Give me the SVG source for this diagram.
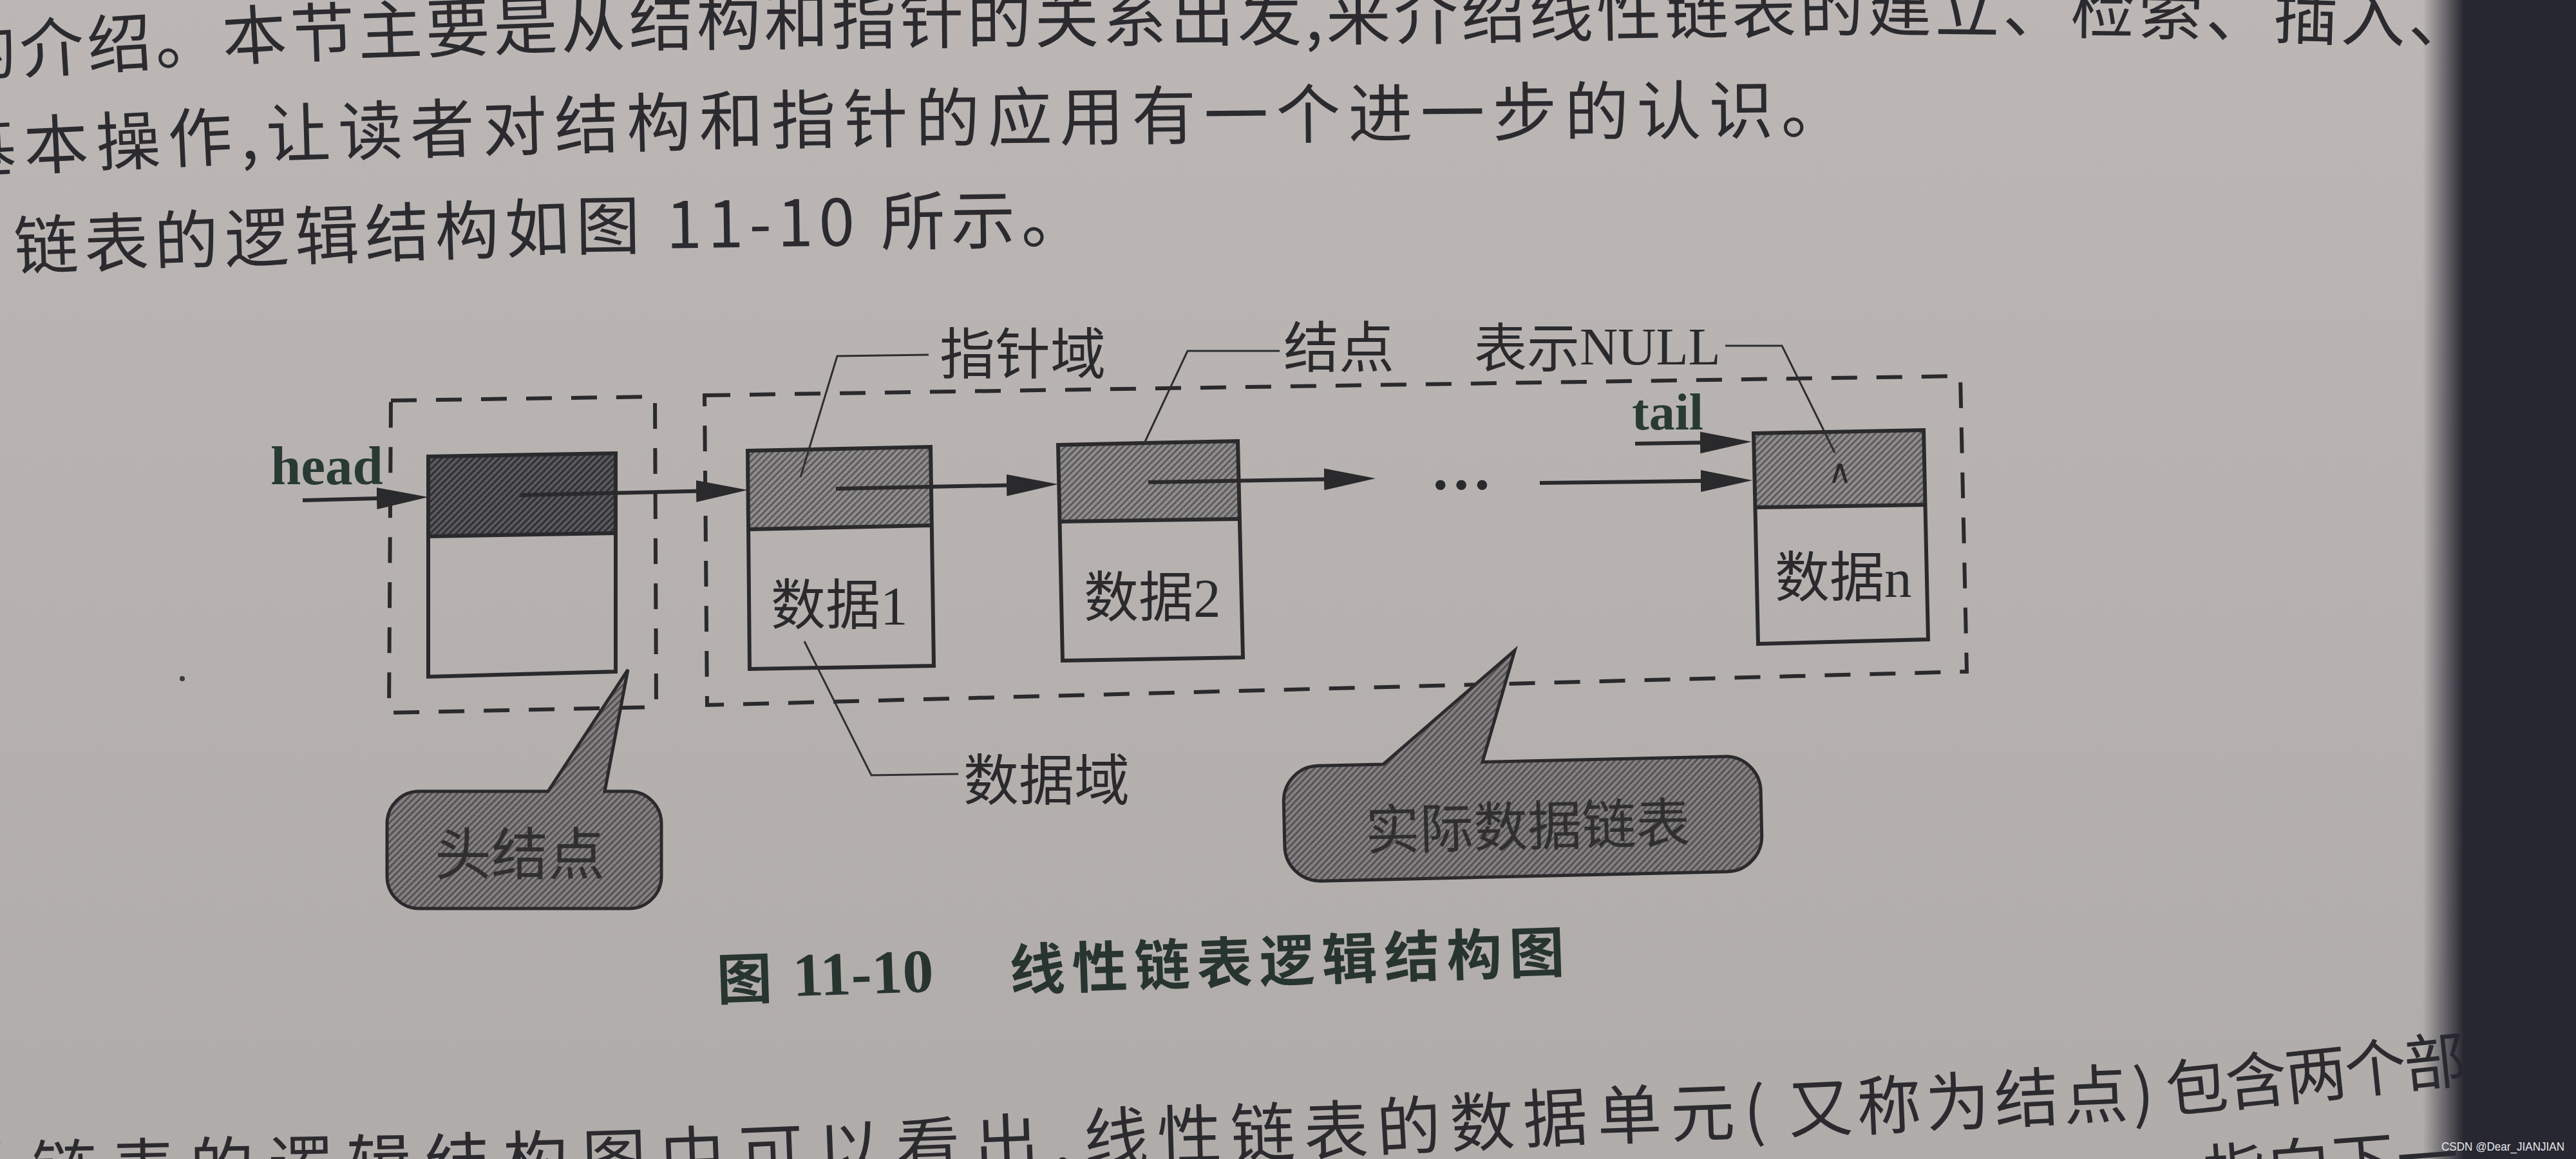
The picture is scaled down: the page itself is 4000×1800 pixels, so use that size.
<svg xmlns="http://www.w3.org/2000/svg" width="4000" height="1800" viewBox="0 0 4000 1800">
<defs>
<style>
.body{font-family:"Noto Sans CJK SC","Noto Sans",sans-serif;font-size:100px;fill:#2b2b2f;}
.lbl{font-family:"Noto Sans CJK SC","Noto Sans",sans-serif;font-size:86px;fill:#2a2a2d;}
.ser{font-family:"Liberation Serif","Noto Sans CJK SC",serif;}
.box{fill:none;stroke:#2a2a2c;stroke-width:6;}
.dash{fill:none;stroke:#2a2a2c;stroke-width:6;stroke-dasharray:40 30;}
.arrow{fill:none;stroke:#2a2a2c;stroke-width:6;marker-end:url(#ah);}
.lead{fill:none;stroke:#2e2e30;stroke-width:3;}
.call{stroke:#2a2a2c;stroke-width:5;}
.cap{font-family:"Noto Sans CJK SC",sans-serif;font-weight:700;font-size:86px;fill:#28342f;}
.grn{font-family:"Liberation Serif",serif;font-weight:700;fill:#293a34;}
</style>
<pattern id="hNode" width="7" height="7" patternUnits="userSpaceOnUse" patternTransform="rotate(45)"><rect width="7" height="7" fill="#8e8b8b"/><rect width="2.5" height="7" fill="#555354"/></pattern>
<pattern id="hHead" width="7" height="7" patternUnits="userSpaceOnUse" patternTransform="rotate(45)"><rect width="7" height="7" fill="#5a595d"/><rect width="3" height="7" fill="#302f34"/></pattern>
<pattern id="hCall" width="7" height="7" patternUnits="userSpaceOnUse" patternTransform="rotate(45)"><rect width="7" height="7" fill="#837f80"/><rect width="2.5" height="7" fill="#4d4b4c"/></pattern>
<linearGradient id="paper" x1="0" y1="0" x2="0" y2="1800" gradientUnits="userSpaceOnUse"><stop offset="0" stop-color="#bcb7b5"/><stop offset="1" stop-color="#b0acaa"/></linearGradient>
<linearGradient id="band" x1="3762" y1="0" x2="3826" y2="0" gradientUnits="userSpaceOnUse"><stop offset="0" stop-color="#272731" stop-opacity="0"/><stop offset="1" stop-color="#272731"/></linearGradient>
<marker id="ah" markerUnits="userSpaceOnUse" markerWidth="90" markerHeight="40" refX="10" refY="17" orient="auto"><path d="M0,0 L80,17 L0,34 Z" fill="#2a2a2c"/></marker>
<path id="p1" d="M -72,120 L 400,91 L 970,71 L 1600,66 L 2250,60 L 2900,48 L 3300,52 L 3700,64 L 3980,68"/>
<path id="p2" d="M -73,269 L 440,244 L 1125,224 L 2000,214 L 3000,205"/>
<path id="p3" d="M 23,419 L 945,387 L 1950,372"/>
<path id="p4a" d="M -71,1856 L 720,1842 L 1078,1832 L 1750,1806"/>
<path id="p4b" d="M 1684,1804 L 2083,1792 L 2427,1772 L 2800,1759"/>
<path id="p4c" d="M 2778,1760 L 3000,1750 L 3250,1737 L 3420,1730"/>
<path id="p4d" d="M 3367,1728 L 3500,1714 L 3690,1694 L 3900,1672"/>
<path id="p5" d="M 3425,1858 L 3950,1818"/>
</defs>

<g id="page">
<rect x="0" y="0" width="4000" height="1800" fill="url(#paper)"/>
<circle cx="283" cy="1054" r="4" fill="#3a3a3c"/>
</g>

<g id="body-text" class="body">
<text style="letter-spacing:5px"><textPath href="#p1">的介绍。本节主要是从结构和指针的关系出发,来介绍线性链表的建立、检索、插入、</textPath></text>
<text style="letter-spacing:12px"><textPath href="#p2">基本操作,让读者对结构和指针的应用有一个进一步的认识。</textPath></text>
<text style="letter-spacing:9px"><textPath href="#p3">链表的逻辑结构如图 11-10 所示。</textPath></text>
<text style="letter-spacing:22px"><textPath href="#p4a">从链表的逻辑结构图中可以看出,</textPath></text>
<text style="letter-spacing:14px"><textPath href="#p4b">线性链表的数据单元(</textPath></text>
<text style="letter-spacing:7px"><textPath href="#p4c">又称为结点)</textPath></text>
<text style="letter-spacing:-3px;font-size:96px"><textPath href="#p4d">包含两个部</textPath></text>
<text style="letter-spacing:4px;font-size:96px"><textPath href="#p5">指向下一</textPath></text>
</g>

<g id="head-frame"><path class="dash" d="M607,622 L1017,616 L1019,1098 L604,1107 Z"/></g>
<g id="list-frame"><path class="dash" d="M1094,614 L3044,584 L3054,1043 L1098,1095 Z"/></g>

<g id="head-node">
<path d="M665,709 L956,704 L956,828 L665,833 Z" fill="url(#hHead)"/>
<path class="box" d="M665,709 L956,704 L956,1043 L665,1051 Z"/>
<path class="box" d="M665,833 L956,828"/>
</g>

<g id="node1">
<path d="M1161,700 L1445,694 L1445,816 L1164,822 Z" fill="url(#hNode)"/>
<path class="box" d="M1161,700 L1445,694 L1450,1034 L1164,1039 Z"/>
<path class="box" d="M1164,822 L1445,816"/>
<text class="lbl" x="1197" y="970" style="font-size:85px">数据<tspan class="ser">1</tspan></text>
</g>

<g id="node2">
<path d="M1643,691 L1922,685 L1924,806 L1646,810 Z" fill="url(#hNode)"/>
<path class="box" d="M1643,691 L1922,685 L1930,1021 L1650,1026 Z"/>
<path class="box" d="M1646,810 L1924,806"/>
<text class="lbl" x="1683" y="958" style="font-size:85px">数据<tspan class="ser">2</tspan></text>
</g>

<g id="node-n">
<path d="M2723,673 L2987,668 L2990,784 L2726,788 Z" fill="url(#hNode)"/>
<path class="box" d="M2723,673 L2987,668 L2994,993 L2730,1000 Z"/>
<path class="box" d="M2726,788 L2990,784"/>
<text x="2857" y="750" text-anchor="middle" style="font-family:'DejaVu Sans',sans-serif;font-size:52px;fill:#2a2a2d">∧</text>
<text class="lbl" x="2756" y="927" style="font-size:85px">数据<tspan class="ser">n</tspan></text>
</g>

<g id="pointers">
<text class="grn" x="420" y="752" style="font-size:85px">head</text>
<text class="grn" x="2534" y="667" style="font-size:80px">tail</text>
<text class="ser" x="2221" y="760" style="font-size:96px;font-weight:700;fill:#2a2a2c">…</text>
</g>

<g id="connectors">
<path class="arrow" d="M470,777 L595,773.8"/>
<path class="arrow" d="M807,769 L1091,762.6"/>
<path class="arrow" d="M1298,759 L1573,753.4"/>
<path class="arrow" d="M1783,749 L2066,744.2"/>
<path class="arrow" d="M2391,750 L2651,746.8"/>
<path class="arrow" d="M2539,689 L2650,687.2"/>
<path class="lead" d="M1442,551 L1300,553 L1243,741"/>
<path class="lead" d="M1987,545 L1844,545 L1777,688"/>
<path class="lead" d="M2679,537 L2767,537 L2849,703"/>
<path class="lead" d="M1488,1202 L1353,1204 L1249,996"/>
</g>

<g id="labels" class="lbl">
<text x="1459" y="581">指针域</text>
<text x="1993" y="571">结点</text>
<text x="2289" y="570" style="font-size:82px">表示<tspan class="ser" dy="-4">NULL</tspan></text>
<text x="1496" y="1243">数据域</text>
</g>

<g id="callout-head">
<path class="call" fill="url(#hCall)" d="M651,1229 L851,1229 L975,1040 L939,1229 L977,1229 A50,50 0 0 1 1027,1279 L1027,1361 A50,50 0 0 1 977,1411 L651,1411 A50,50 0 0 1 601,1361 L601,1279 A50,50 0 0 1 651,1229 Z"/>
<text class="lbl" x="807" y="1358" text-anchor="middle" style="font-size:88px;fill:#2f2f31">头结点</text>
</g>

<g id="callout-list" transform="rotate(-1.3 2365 1272)">
<path class="call" fill="url(#hCall)" d="M2049,1182 L2150,1182 L2358,1010 L2304,1182 L2680,1182 A55,55 0 0 1 2735,1237 L2735,1306 A55,55 0 0 1 2680,1361 L2049,1361 A55,55 0 0 1 1994,1306 L1994,1237 A55,55 0 0 1 2049,1182 Z"/>
<text class="lbl" x="2372" y="1314" text-anchor="middle" style="font-size:84px;fill:#2f2f31">实际数据链表</text>
</g>

<g id="caption" transform="rotate(-1.9 1114 1553)">
<text class="cap" x="1114" y="1553">图</text>
<text class="grn" x="1232" y="1551" style="font-size:96px;fill:#28342f">11-10</text>
<text class="cap" x="1569" y="1553" style="letter-spacing:11px">线性链表逻辑结构图</text>
</g>

<g id="edge">
<rect x="3762" y="0" width="64" height="1800" fill="url(#band)"/>
<rect x="3825" y="0" width="175" height="1800" fill="#272731"/>
<text x="3791" y="1787" textLength="191" lengthAdjust="spacingAndGlyphs" style="font-family:'Liberation Sans',sans-serif;font-size:19px;fill:#e6e6ea">CSDN @Dear_JIANJIAN</text>
</g>
</svg>
